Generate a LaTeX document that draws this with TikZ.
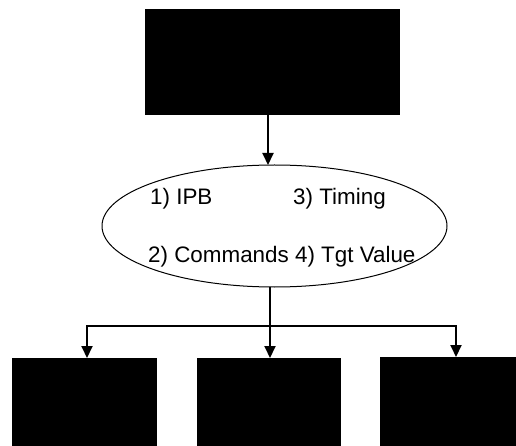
\documentclass[tikz,border=0pt]{standalone}
\usepackage{fontspec}
\setmainfont{Liberation Sans}
\usetikzlibrary{arrows.meta,shapes.geometric}
\begin{document}
\begin{tikzpicture}[x=1pt,y=-1pt,
  blk/.style={fill=black,draw=none},
  conn/.style={line width=2pt,-{Triangle[width=11pt,length=12pt]}},
  lbl/.style={font=\fontsize{22.4}{24}\selectfont,inner sep=0pt,anchor=base west}]
\useasboundingbox (0,0) rectangle (516,446);
\fill[blk] (145,9) rectangle (400,115);
\coordinate (topb) at (268,115);
\node[draw,line width=1pt,ellipse,minimum width=345pt,minimum height=122pt,inner sep=0pt] (ell) at (274.5,226) {};
\node[lbl] (t1) at (150,205) {1) IPB};
\node[lbl] (t3) at (293,205) {3) Timing};
\node[lbl] (t2) at (148,262) {2) Commands 4) Tgt Value};
\fill[blk] (12,358) rectangle (157,446);
\fill[blk] (197,358) rectangle (341,446);
\fill[blk] (380,357) rectangle (516,446);
\coordinate (etop) at (268,165);
\coordinate (ebot) at (270,287);
\coordinate (split) at (270,326);
\coordinate (b1) at (87,358);
\coordinate (b2) at (270,358);
\coordinate (b3) at (456,357);
\draw[conn] (topb) -- (etop);
\draw[line width=2pt] (ebot) -- (split);
\draw[conn] (split) -- (b2);
\draw[conn] (split) -| (b1);
\draw[conn] (split) -| (b3);
\end{tikzpicture}
\end{document}
